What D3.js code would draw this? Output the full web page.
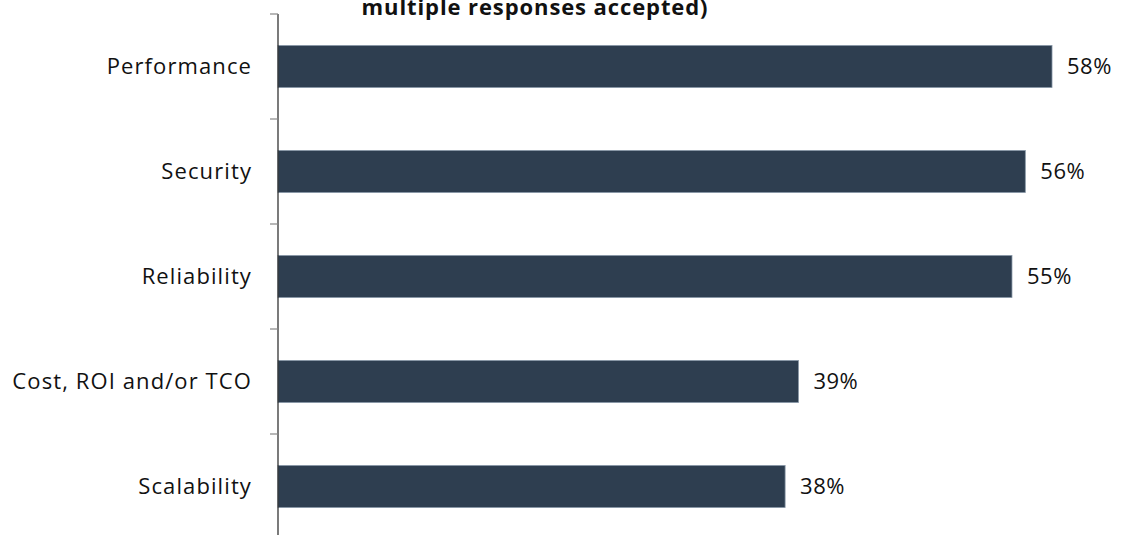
<!DOCTYPE html>
<html>
<head>
<meta charset="utf-8">
<script src="https://cdn.jsdelivr.net/npm/d3@7"></script>
<style>
  body { margin: 0; background: #fff; }
  text { font-family: "Open Sans", "Noto Sans", sans-serif; }
</style>
</head>
<body>
<div id="chart"></div>
<script>
var categories = ['Performance', 'Security', 'Reliability', 'Cost, ROI and/or TCO', 'Scalability']
var values = [0.58, 0.56, 0.55, 0.39, 0.38]
var titleLine = 'multiple responses accepted)'

var width = 1122, height = 535
var svg = d3.select('#chart')
  .append('svg')
  .attr('width', width)
  .attr('height', height)

var x = d3.scaleLinear()
  .domain([0, 0.6])
  .range([278, 278 + 800.7])

var y = d3.scaleBand()
  .domain(categories)
  .range([14, 539])
  .paddingInner(0.6)
  .paddingOuter(0.3)

// title (only its last line shows at the top)
svg.append('text')
  .attr('x', 535)
  .attr('y', 15)
  .attr('text-anchor', 'middle')
  .attr('font-size', 22)
  .attr('font-weight', 'bold')
  .attr('letter-spacing', 0.9)
  .attr('fill', '#111')
  .text(titleLine)

// bars
svg.selectAll('rect.bar')
  .data(values)
  .enter()
  .append('rect')
  .attr('class', 'bar')
  .attr('x', x(0))
  .attr('y', (d, i) => y(categories[i]))
  .attr('width', d => x(d) - x(0))
  .attr('height', y.bandwidth())
  .attr('fill', '#2e3e50')
  .attr('stroke', '#8796a6')
  .attr('stroke-width', 0.8)

// value labels
svg.selectAll('text.val')
  .data(values)
  .enter()
  .append('text')
  .attr('class', 'val')
  .attr('x', d => x(d) + 15)
  .attr('y', (d, i) => y(categories[i]) + y.bandwidth() / 2)
  .attr('dy', '0.36em')
  .attr('font-size', 22)
  .attr('letter-spacing', 0.5)
  .attr('fill', '#111')
  .text(d => Math.round(d * 100) + '%')

// category axis
var step = y.step()
var ticks = d3.range(categories.length + 1).map(i => 14 + i * step)
var axis = svg.append('g')
axis.append('line')
  .attr('x1', x(0)).attr('x2', x(0))
  .attr('y1', 14).attr('y2', height)
  .attr('stroke', '#222')
  .attr('stroke-width', 1.2)
axis.selectAll('line.tick')
  .data(ticks)
  .enter()
  .append('line')
  .attr('class', 'tick')
  .attr('x1', x(0) - 8).attr('x2', x(0))
  .attr('y1', d => d).attr('y2', d => d)
  .attr('stroke', '#888')
  .attr('stroke-width', 1.2)

axis.selectAll('text.cat')
  .data(categories)
  .enter()
  .append('text')
  .attr('class', 'cat')
  .attr('x', 252)
  .attr('y', d => y(d) + y.bandwidth() / 2)
  .attr('dy', '0.36em')
  .attr('text-anchor', 'end')
  .attr('font-size', 22)
  .attr('letter-spacing', 1.1)
  .attr('fill', '#111')
  .text(d => d)
</script>
</body>
</html>
